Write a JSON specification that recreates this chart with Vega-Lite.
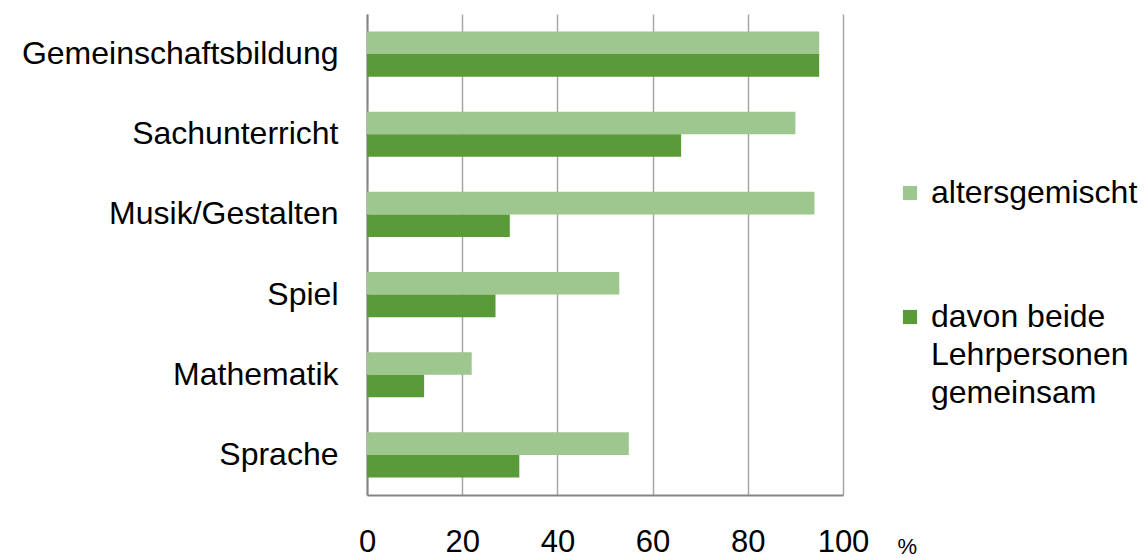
{
  "$schema": "https://vega.github.io/schema/vega-lite/v6.json",
  "width": 476,
  "height": 481,
  "autosize": {"type": "none"},
  "padding": {"left": 367, "top": 14, "right": 304, "bottom": 63},
  "background": "white",
  "config": {
    "view": {"stroke": null},
    "font": "Liberation Sans"
  },
  "data": {
    "values": [
      {"category": "Gemeinschaftsbildung", "series": "altersgemischt", "value": 95},
      {"category": "Gemeinschaftsbildung", "series": "davon beide Lehrpersonen gemeinsam", "value": 95},
      {"category": "Sachunterricht", "series": "altersgemischt", "value": 90},
      {"category": "Sachunterricht", "series": "davon beide Lehrpersonen gemeinsam", "value": 66},
      {"category": "Musik/Gestalten", "series": "altersgemischt", "value": 94},
      {"category": "Musik/Gestalten", "series": "davon beide Lehrpersonen gemeinsam", "value": 30},
      {"category": "Spiel", "series": "altersgemischt", "value": 53},
      {"category": "Spiel", "series": "davon beide Lehrpersonen gemeinsam", "value": 27},
      {"category": "Mathematik", "series": "altersgemischt", "value": 22},
      {"category": "Mathematik", "series": "davon beide Lehrpersonen gemeinsam", "value": 12},
      {"category": "Sprache", "series": "altersgemischt", "value": 55},
      {"category": "Sprache", "series": "davon beide Lehrpersonen gemeinsam", "value": 32}
    ]
  },
  "mark": {"type": "bar"},
  "encoding": {
    "y": {
      "field": "category",
      "type": "nominal",
      "sort": ["Gemeinschaftsbildung", "Sachunterricht", "Musik/Gestalten", "Spiel", "Mathematik", "Sprache"],
      "scale": {"paddingInner": 0.4375, "paddingOuter": 0.21875},
      "axis": {
        "title": null,
        "ticks": false,
        "grid": false,
        "domain": true,
        "domainColor": "#868686",
        "domainWidth": 2,
        "labelFont": "Liberation Sans",
        "labelFontSize": 32,
        "labelColor": "#000000",
        "labelPadding": 29,
        "labelLimit": 400
      }
    },
    "yOffset": {
      "field": "series",
      "type": "nominal",
      "sort": ["altersgemischt", "davon beide Lehrpersonen gemeinsam"],
      "scale": {"paddingInner": 0, "paddingOuter": 0}
    },
    "x": {
      "field": "value",
      "type": "quantitative",
      "scale": {"domain": [0, 100], "nice": false},
      "axis": {
        "values": [0, 20, 40, 60, 80, 100],
        "grid": true,
        "gridColor": "#A6A6A6",
        "gridWidth": 1.5,
        "ticks": false,
        "domain": true,
        "domainColor": "#868686",
        "domainWidth": 2,
        "labelFont": "Liberation Sans",
        "labelFontSize": 31,
        "labelColor": "#000000",
        "labelPadding": 32,
        "labelFlush": false,
        "title": "%",
        "titleFont": "Liberation Sans",
        "titleFontSize": 22,
        "titleFontWeight": "normal",
        "titleColor": "#000000",
        "titleAnchor": "start",
        "titleAlign": "left",
        "titleBaseline": "bottom",
        "titleX": 530,
        "titleY": 63
      }
    },
    "color": {
      "field": "series",
      "type": "nominal",
      "scale": {
        "domain": ["altersgemischt", "davon beide Lehrpersonen gemeinsam"],
        "range": ["#9EC68F", "#5A9A39"]
      },
      "legend": {
        "title": null,
        "orient": "none",
        "legendX": 527,
        "legendY": 163,
        "padding": 0,
        "symbolType": "square",
        "symbolSize": 200,
        "symbolStrokeWidth": 0,
        "labelFont": "Liberation Sans",
        "labelFontSize": 32,
        "labelColor": "#000000",
        "labelOffset": 5,
        "labelLimit": 400,
        "labelBaseline": "middle",
        "rowPadding": 92,
        "labelExpr": "datum.label == 'davon beide Lehrpersonen gemeinsam' ? ['davon beide', 'Lehrpersonen', 'gemeinsam'] : datum.label",
        "encode": {"labels": {"update": {"lineHeight": {"value": 38}}}}
      }
    }
  }
}
